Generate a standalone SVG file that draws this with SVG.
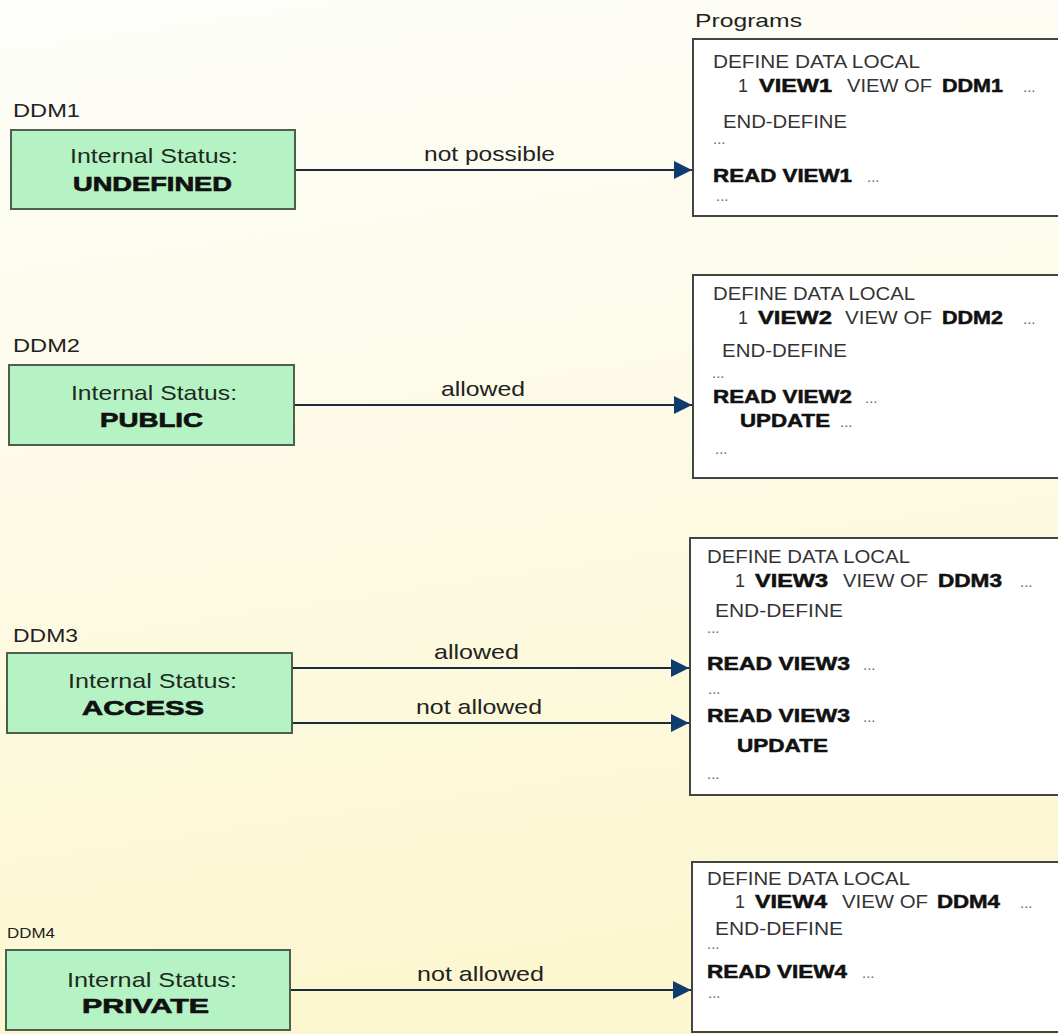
<svg xmlns="http://www.w3.org/2000/svg" width="1058" height="1034" viewBox="0 0 1058 1034">
<defs>
<linearGradient id="bg" x1="0" y1="0" x2="0.15" y2="1">
<stop offset="0" stop-color="#fefefb"/>
<stop offset="1" stop-color="#fcf7d0"/>
</linearGradient>
<marker id="ah" viewBox="0 0 18 18" refX="18" refY="9" markerWidth="18" markerHeight="18" markerUnits="userSpaceOnUse" orient="auto">
<path d="M0,0 L18,9 L0,18 z" fill="#0f3c6e"/>
</marker>
<style>
text{font-family:"Liberation Sans",Arial,sans-serif}
.lbl{font-size:19px;fill:#222}
.st{font-size:21px;fill:#1e2a1e}
.bw{font-size:21px;font-weight:bold;fill:#111;stroke:#111;stroke-width:0.7}
.pt{font-size:18px;fill:#333}
.pb{font-size:18px;font-weight:bold;fill:#111;stroke:#111;stroke-width:0.5}
.dt{font-size:15px;fill:#666}
.cl{font-size:21px;fill:#222}
.gbox{fill:#b5f3c4;stroke:#4e5f4e;stroke-width:2}
.pbox{fill:#fff;stroke:#444;stroke-width:2}
.conn{stroke:#1b2a3c;stroke-width:2;fill:none;marker-end:url(#ah)}
</style>
</defs>
<rect x="0" y="0" width="1058" height="1034" fill="url(#bg)"/>

<g id="ddm1">
<text class="lbl" x="13" y="117" textLength="67" lengthAdjust="spacingAndGlyphs">DDM1</text>
<rect class="gbox" x="11" y="130" width="284" height="79"/>
<text class="st" x="70" y="163" textLength="168" lengthAdjust="spacingAndGlyphs">Internal Status:</text>
<text class="bw" x="73" y="191" textLength="159" lengthAdjust="spacingAndGlyphs">UNDEFINED</text>
</g>

<g id="ddm2">
<text class="lbl" x="13" y="352" textLength="67" lengthAdjust="spacingAndGlyphs">DDM2</text>
<rect class="gbox" x="9" y="365" width="285" height="80"/>
<text class="st" x="71" y="400" textLength="166" lengthAdjust="spacingAndGlyphs">Internal Status:</text>
<text class="bw" x="100" y="427" textLength="103" lengthAdjust="spacingAndGlyphs">PUBLIC</text>
</g>

<g id="ddm3">
<text class="lbl" x="13" y="642" textLength="65" lengthAdjust="spacingAndGlyphs">DDM3</text>
<rect class="gbox" x="7" y="653" width="285" height="80"/>
<text class="st" x="68" y="688" textLength="169" lengthAdjust="spacingAndGlyphs">Internal Status:</text>
<text class="bw" x="82" y="715" textLength="122" lengthAdjust="spacingAndGlyphs">ACCESS</text>
</g>

<g id="ddm4">
<text class="lbl" x="7" y="938" style="font-size:15px" textLength="48" lengthAdjust="spacingAndGlyphs">DDM4</text>
<rect class="gbox" x="6" y="950" width="284" height="80"/>
<text class="st" x="67" y="987" textLength="170" lengthAdjust="spacingAndGlyphs">Internal Status:</text>
<text class="bw" x="82" y="1013" textLength="127" lengthAdjust="spacingAndGlyphs">PRIVATE</text>
</g>

<text class="lbl" x="695" y="27" textLength="107" lengthAdjust="spacingAndGlyphs">Programs</text>

<g id="prog1">
<rect class="pbox" x="693" y="39" width="372" height="177"/>
<text class="pt" x="713" y="68" textLength="207" lengthAdjust="spacingAndGlyphs">DEFINE DATA LOCAL</text>
<text class="pt" x="738" y="92">1</text>
<text class="pb" x="759" y="92" textLength="73" lengthAdjust="spacingAndGlyphs">VIEW1</text>
<text class="pt" x="847" y="92" textLength="85" lengthAdjust="spacingAndGlyphs">VIEW OF</text>
<text class="pb" x="942" y="92" textLength="61" lengthAdjust="spacingAndGlyphs">DDM1</text>
<text class="dt" x="1023" y="92">...</text>
<text class="pt" x="723" y="128" textLength="124" lengthAdjust="spacingAndGlyphs">END-DEFINE</text>
<text class="dt" x="713" y="144">...</text>
<text class="pb" x="713" y="182" textLength="139" lengthAdjust="spacingAndGlyphs">READ VIEW1</text>
<text class="dt" x="867" y="182">...</text>
<text class="dt" x="716" y="201">...</text>
</g>

<g id="prog2">
<rect class="pbox" x="693" y="275" width="372" height="203"/>
<text class="pt" x="713" y="300" textLength="202" lengthAdjust="spacingAndGlyphs">DEFINE DATA LOCAL</text>
<text class="pt" x="738" y="324">1</text>
<text class="pb" x="758" y="324" textLength="74" lengthAdjust="spacingAndGlyphs">VIEW2</text>
<text class="pt" x="845" y="324" textLength="87" lengthAdjust="spacingAndGlyphs">VIEW OF</text>
<text class="pb" x="942" y="324" textLength="61" lengthAdjust="spacingAndGlyphs">DDM2</text>
<text class="dt" x="1023" y="324">...</text>
<text class="pt" x="722" y="357" textLength="125" lengthAdjust="spacingAndGlyphs">END-DEFINE</text>
<text class="dt" x="712" y="378">...</text>
<text class="pb" x="713" y="403" textLength="139" lengthAdjust="spacingAndGlyphs">READ VIEW2</text>
<text class="dt" x="865" y="403">...</text>
<text class="pb" x="740" y="427" textLength="90" lengthAdjust="spacingAndGlyphs">UPDATE</text>
<text class="dt" x="840" y="427">...</text>
<text class="dt" x="715" y="454">...</text>
</g>

<g id="prog3">
<rect class="pbox" x="690" y="538" width="375" height="257"/>
<text class="pt" x="707" y="563" textLength="203" lengthAdjust="spacingAndGlyphs">DEFINE DATA LOCAL</text>
<text class="pt" x="735" y="587">1</text>
<text class="pb" x="755" y="587" textLength="73" lengthAdjust="spacingAndGlyphs">VIEW3</text>
<text class="pt" x="843" y="587" textLength="85" lengthAdjust="spacingAndGlyphs">VIEW OF</text>
<text class="pb" x="938" y="587" textLength="64" lengthAdjust="spacingAndGlyphs">DDM3</text>
<text class="dt" x="1020" y="587">...</text>
<text class="pt" x="715" y="617" textLength="128" lengthAdjust="spacingAndGlyphs">END-DEFINE</text>
<text class="dt" x="707" y="633">...</text>
<text class="pb" x="707" y="670" textLength="143" lengthAdjust="spacingAndGlyphs">READ VIEW3</text>
<text class="dt" x="863" y="670">...</text>
<text class="dt" x="708" y="694">...</text>
<text class="pb" x="707" y="722" textLength="143" lengthAdjust="spacingAndGlyphs">READ VIEW3</text>
<text class="dt" x="863" y="722">...</text>
<text class="pb" x="737" y="752" textLength="91" lengthAdjust="spacingAndGlyphs">UPDATE</text>
<text class="dt" x="707" y="779">...</text>
</g>

<g id="prog4">
<rect class="pbox" x="692" y="862" width="373" height="170"/>
<text class="pt" x="707" y="885" textLength="203" lengthAdjust="spacingAndGlyphs">DEFINE DATA LOCAL</text>
<text class="pt" x="735" y="908">1</text>
<text class="pb" x="755" y="908" textLength="72" lengthAdjust="spacingAndGlyphs">VIEW4</text>
<text class="pt" x="842" y="908" textLength="86" lengthAdjust="spacingAndGlyphs">VIEW OF</text>
<text class="pb" x="937" y="908" textLength="63" lengthAdjust="spacingAndGlyphs">DDM4</text>
<text class="dt" x="1020" y="908">...</text>
<text class="pt" x="715" y="935" textLength="128" lengthAdjust="spacingAndGlyphs">END-DEFINE</text>
<text class="dt" x="707" y="949">...</text>
<text class="pb" x="707" y="978" textLength="140" lengthAdjust="spacingAndGlyphs">READ VIEW4</text>
<text class="dt" x="862" y="978">...</text>
<text class="dt" x="708" y="998">...</text>
</g>

<g id="connectors">
<line class="conn" x1="296" y1="170" x2="692" y2="170"/>
<text class="cl" x="424" y="161" textLength="131" lengthAdjust="spacingAndGlyphs">not possible</text>
<line class="conn" x1="295" y1="405" x2="692" y2="405"/>
<text class="cl" x="441" y="396" textLength="84" lengthAdjust="spacingAndGlyphs">allowed</text>
<line class="conn" x1="293" y1="668" x2="689" y2="668"/>
<text class="cl" x="434" y="659" textLength="85" lengthAdjust="spacingAndGlyphs">allowed</text>
<line class="conn" x1="293" y1="723" x2="689" y2="723"/>
<text class="cl" x="416" y="714" textLength="126" lengthAdjust="spacingAndGlyphs">not allowed</text>
<line class="conn" x1="291" y1="990" x2="691" y2="990"/>
<text class="cl" x="417" y="981" textLength="127" lengthAdjust="spacingAndGlyphs">not allowed</text>
</g>
</svg>
